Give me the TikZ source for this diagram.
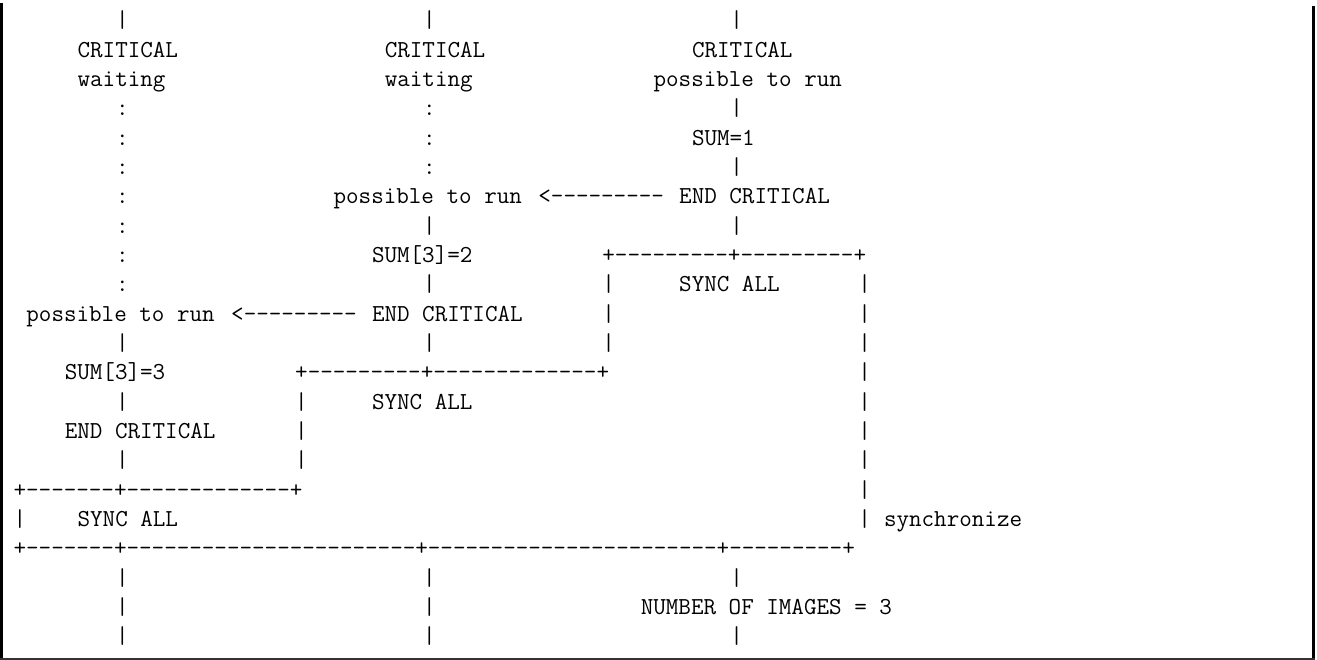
\documentclass[tikz,border=0pt]{standalone}
\usepackage{tikz}
\newcommand\D[1]{\foreach \i in {1,...,#1}{-\kern0pt}}
\tikzset{txt/.style={anchor=base west,inner sep=0pt,outer sep=0pt,
  font=\ttfamily\fontsize{24.38pt}{29pt}\selectfont,text=black}}
\newcommand\T[4]{\node[txt] (#1) at ({13.6+12.8*#2},{-28-29.33*#3}) {#4};}
\begin{document}
\begin{tikzpicture}[x=1pt,y=1pt]
\useasboundingbox (0,0) rectangle (1317,-660);
% frame
\draw[line width=2.6pt] (1.3,-3) -- (1.3,-660);
\draw[line width=2.6pt] (1313.7,-6) -- (1313.7,-660);
\draw[line width=1.8pt,black!80] (0,-658.9) -- (1315,-658.9);
% row 0
\T{a0}{8}{0}{|}\T{b0}{32}{0}{|}\T{c0}{56}{0}{|}
% row 1
\T{a1}{5}{1}{CRITICAL}\T{b1}{29}{1}{CRITICAL}\T{c1}{53}{1}{CRITICAL}
% row 2
\T{a2}{5}{2}{waiting}\T{b2}{29}{2}{waiting}\T{c2}{50}{2}{possible to run}
% row 3
\T{a3}{8}{3}{:}\T{b3}{32}{3}{:}\T{c3}{56}{3}{|}
% row 4
\T{a4}{8}{4}{:}\T{b4}{32}{4}{:}\T{c4}{53}{4}{SUM=1}
% row 5
\T{a5}{8}{5}{:}\T{b5}{32}{5}{:}\T{c5}{56}{5}{|}
% row 6
\T{a6}{8}{6}{:}\T{b6}{25}{6}{possible to run}\T{arr6}{41}{6}{<\D{9}}\T{c6}{52}{6}{END CRITICAL}
% row 7
\T{a7}{8}{7}{:}\T{b7}{32}{7}{|}\T{c7}{56}{7}{|}
% row 8
\T{a8}{8}{8}{:}\T{b8}{28}{8}{SUM[3]=2}\T{box8}{46}{8}{+\D{9}+\D{9}+}
% row 9
\T{a9}{8}{9}{:}\T{b9}{32}{9}{|}\T{l9}{46}{9}{|}\T{s9}{52}{9}{SYNC ALL}\T{r9}{66}{9}{|}
% row 10
\T{a10}{1}{10}{possible to run}\T{arr10}{17}{10}{<\D{9}}\T{b10}{28}{10}{END CRITICAL}\T{l10}{46}{10}{|}\T{r10}{66}{10}{|}
% row 11
\T{a11}{8}{11}{|}\T{b11}{32}{11}{|}\T{l11}{46}{11}{|}\T{r11}{66}{11}{|}
% row 12
\T{a12}{4}{12}{SUM[3]=3}\T{box12}{22}{12}{+\D{9}+\D{13}+}\T{r12}{66}{12}{|}
% row 13
\T{a13}{8}{13}{|}\T{l13}{22}{13}{|}\T{s13}{28}{13}{SYNC ALL}\T{r13}{66}{13}{|}
% row 14
\T{a14}{4}{14}{END CRITICAL}\T{l14}{22}{14}{|}\T{r14}{66}{14}{|}
% row 15
\T{a15}{8}{15}{|}\T{l15}{22}{15}{|}\T{r15}{66}{15}{|}
% row 16
\T{box16}{0}{16}{+\D{7}+\D{13}+}\T{r16}{66}{16}{|}
% row 17
\T{l17}{0}{17}{|}\T{s17}{5}{17}{SYNC ALL}\T{r17}{66}{17}{|}\T{syn}{68}{17}{synchronize}
% row 18
\T{box18}{0}{18}{+\D{7}+\D{23}+\D{23}+\D{9}+}
% row 19
\T{a19}{8}{19}{|}\T{b19}{32}{19}{|}\T{c19}{56}{19}{|}
% row 20
\T{a20}{8}{20}{|}\T{b20}{32}{20}{|}\T{c20}{49}{20}{NUMBER OF IMAGES = 3}
% row 21
\T{a21}{8}{21}{|}\T{b21}{32}{21}{|}\T{c21}{56}{21}{|}
\end{tikzpicture}
\end{document}
